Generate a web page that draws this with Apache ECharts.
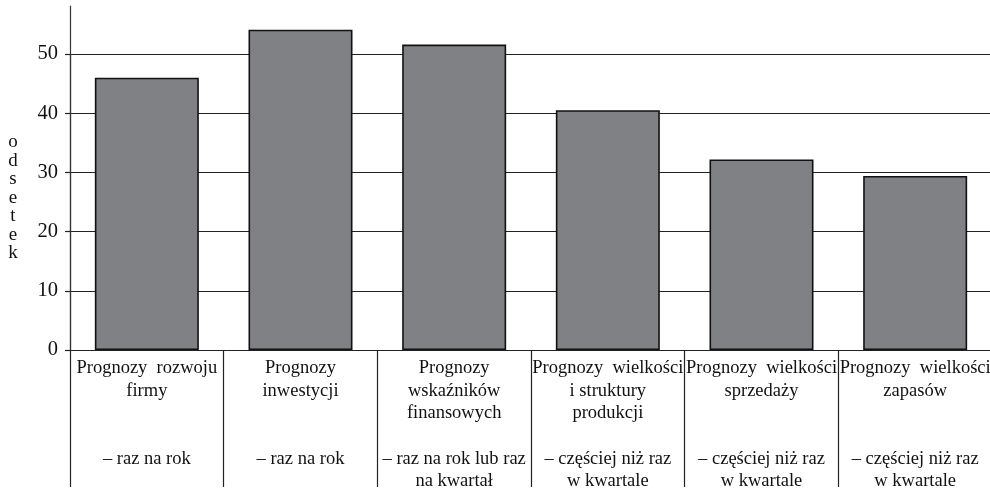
<!DOCTYPE html>
<html>
<head>
<meta charset="utf-8">
<script src="https://cdn.jsdelivr.net/npm/echarts@6/dist/echarts.min.js"></script>
<style>
  html, body { margin: 0; padding: 0; background: #fff; }
  #chart { width: 990px; height: 493px; }
</style>
</head>
<body>
<div id="chart"></div>
<script>
// ---- data ----
const categories = [
  'Prognozy  rozwoju\nfirmy',
  'Prognozy\ninwestycji',
  'Prognozy\nwskaźników\nfinansowych',
  'Prognozy  wielkości\ni struktury\nprodukcji',
  'Prognozy  wielkości\nsprzedaży',
  'Prognozy  wielkości\nzapasów'
];
const frequencies = [
  '– raz na rok',
  '– raz na rok',
  '– raz na rok lub raz\nna kwartał',
  '– częściej niż raz\nw kwartale',
  '– częściej niż raz\nw kwartale',
  '– częściej niż raz\nw kwartale'
];
const values = [46.0, 54.1, 51.6, 40.5, 32.2, 29.4];
const yTicks = [0, 10, 20, 30, 40, 50];
const yAxisName = 'odsetek';

// ---- build labels: top block padded to 4 lines, then frequency block ----
const labelTexts = categories.map((c, i) => {
  const top = c.split('\n');
  while (top.length < 4) top.push(' ');
  const bottom = frequencies[i].split('\n');
  while (bottom.length < 2) bottom.push(' ');
  return top.concat(bottom).join('\n');
});

const serif = '"Liberation Serif", "DejaVu Serif", serif';
const chart = echarts.init(document.getElementById('chart'), null, { renderer: 'canvas' });

const option = {
  backgroundColor: '#ffffff',
  animation: false,
  title: {
    text: yAxisName.split('').join('\n'),
    left: 13,
    top: 133,
    padding: 0,
    textAlign: 'center',
    textStyle: { fontFamily: serif, fontSize: 19, fontWeight: 'normal', color: '#111', lineHeight: 18.5 }
  },
  grid: [
    { left: 70, width: 922, top: 54, bottom: 143, containLabel: false, outerBoundsMode: 'none' },
    { left: 70, width: 922, top: 6, bottom: 143, containLabel: false, outerBoundsMode: 'none' }
  ],
  xAxis: [
    {
      type: 'category',
      gridIndex: 0,
      data: labelTexts,
      axisLine: { show: true, lineStyle: { color: '#222', width: 1.2 } },
      axisTick: { show: true, interval: 0, alignWithLabel: false, length: 137, lineStyle: { color: '#222', width: 1.2 } },
      axisLabel: {
        interval: 0,
        margin: 7,
        fontFamily: serif,
        fontSize: 18.5,
        lineHeight: 22.6,
        color: '#111',
        align: 'center'
      },
      splitLine: { show: false }
    },
    {
      type: 'category',
      gridIndex: 1,
      data: labelTexts,
      show: false
    }
  ],
  yAxis: [
    {
      type: 'value',
      gridIndex: 0,
      min: yTicks[0],
      max: yTicks[yTicks.length - 1],
      interval: 10,
      axisLine: { show: true, lineStyle: { color: '#333', width: 1.2 } },
      axisTick: { show: true, length: 5, lineStyle: { color: '#222', width: 1.2 } },
      axisLabel: { margin: 12, fontFamily: serif, fontSize: 20.5, color: '#111' },
      splitLine: { show: true, lineStyle: { color: '#222', width: 1.2 } }
    },
    {
      type: 'value',
      gridIndex: 1,
      min: 0,
      max: 1,
      axisLine: { show: true, lineStyle: { color: '#333', width: 1.2 } },
      axisTick: { show: false },
      axisLabel: { show: false },
      splitLine: { show: false }
    }
  ],
  series: [
    {
      type: 'bar',
      xAxisIndex: 0,
      yAxisIndex: 0,
      data: values,
      barWidth: 104,
      clip: false,
      z: 3,
      itemStyle: { color: '#808184', borderColor: '#111', borderWidth: 1.6 },
      label: { show: false }
    }
  ]
};
chart.setOption(option);
</script>
</body>
</html>
